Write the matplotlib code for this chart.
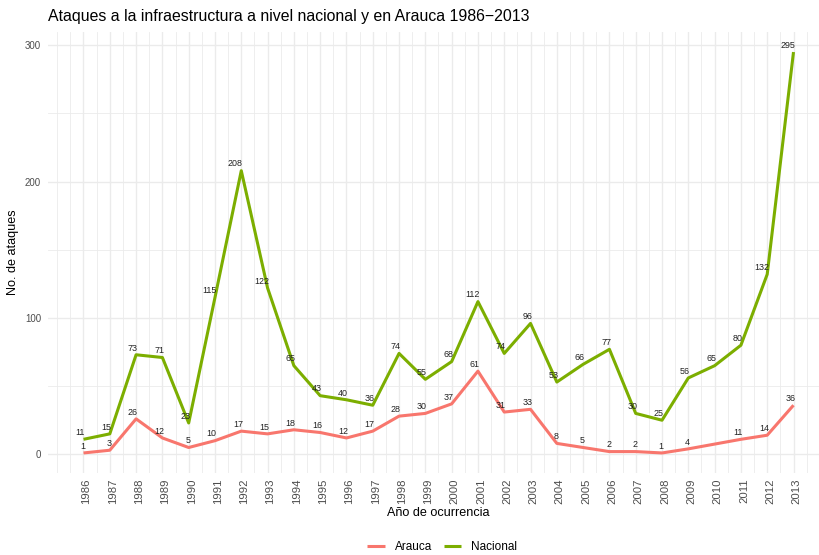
import matplotlib
matplotlib.use("Agg")
import matplotlib.pyplot as plt
import matplotlib.transforms as mtransforms
import numpy as np

plt.rcParams['font.family'] = ['Liberation Sans', 'DejaVu Sans']

years = list(range(1986, 2014))
nacional = [11, 15, 73, 71, 23, 115, 208, 122, 65, 43, 40, 36, 74, 55,
            68, 112, 74, 96, 53, 66, 77, 30, 25, 56, 65, 80, 132, 295]

# Arauca has no record for 2010
arauca_years = [y for y in years if y != 2010]
arauca = [1, 3, 26, 12, 5, 10, 17, 15, 18, 16, 12, 17, 28, 30,
          37, 61, 31, 33, 8, 5, 2, 2, 1, 4, 11, 14, 36]

series = [
    ("Arauca", arauca_years, arauca, "#F8766D"),
    ("Nacional", years, nacional, "#7CAE00"),
]


def plot_ataques():
    W, H = 820, 555
    fig = plt.figure(figsize=(W / 100, H / 100), dpi=100)
    fig.patch.set_facecolor("white")

    # panel in pixels: left 48, right 829 (cut by the figure edge), top 32, bottom 473
    ax = fig.add_axes([48 / W, 1 - 473 / H, (829 - 48) / W, (473 - 32) / H])

    for name, xs, ys, col in series:
        ax.plot(xs, ys, color=col, lw=2.2, label=name, solid_capstyle="butt", zorder=3)
        for x, y in zip(xs, ys):
            ax.annotate(str(y), (x, y), xytext=(1.2, 1.6), textcoords="offset points",
                        ha="right", va="bottom", fontsize=6.4, color="#222222", zorder=4)

    span = years[-1] - years[0]
    ax.set_xlim(years[0] - 0.05 * span, years[-1] + 0.05 * span)
    top, bot = max(nacional), min(arauca + nacional)
    ax.set_ylim(bot - 0.05 * (top - bot), top + 0.05 * (top - bot))

    ax.set_xticks(years)
    ax.set_xticklabels([str(y) for y in years], rotation=90, va="top", ha="center")
    ax.set_xticks(np.arange(years[0] - 1, years[-1] + 1.01, 0.5), minor=True)
    ax.set_yticks([0, 100, 200, 300])
    ax.set_yticks([50, 150, 250], minor=True)

    ax.grid(which="major", color="#EBEBEB", lw=1.0)
    ax.grid(which="minor", color="#EBEBEB", lw=0.6)
    ax.set_axisbelow(True)
    for s in ax.spines.values():
        s.set_visible(False)
    ax.tick_params(which="both", length=0)
    ax.tick_params(axis="y", labelsize=7, labelcolor="#4D4D4D", pad=5)
    ax.tick_params(axis="x", labelsize=8.2, labelcolor="#4D4D4D", pad=4)
    shift = mtransforms.ScaledTranslation(3 / 100, 0, fig.dpi_scale_trans)
    for lab in ax.get_xticklabels():
        lab.set_transform(lab.get_transform() + shift)

    fig.text(48 / W, 1 - 17 / H, "Ataques a la infraestructura a nivel nacional y en Arauca 1986\u22122013",
             ha="left", va="center", fontsize=11.4, color="black")
    fig.text(438.5 / W, 1 - 513 / H, "Año de ocurrencia", ha="center", va="center", fontsize=9.1)
    fig.text(13 / W, 1 - 252 / H, "No. de ataques", ha="center", va="center",
             rotation=90, fontsize=9.1)

    handles, labels = ax.get_legend_handles_labels()
    fig.legend(handles, labels, loc="center", bbox_to_anchor=(442 / W, 1 - 547 / H), ncol=2,
               frameon=False, fontsize=8.5, handlelength=1.5, handletextpad=0.8,
               columnspacing=1.0)

    fig.savefig("out.png", dpi=100, facecolor="white")


if __name__ == "__main__":
    plot_ataques()
